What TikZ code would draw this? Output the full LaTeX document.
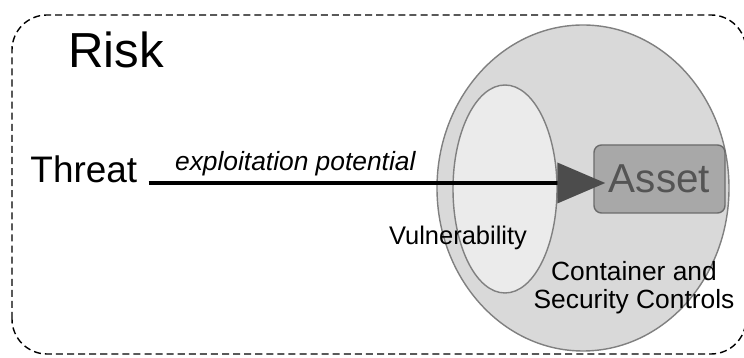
\documentclass[tikz,border=0pt]{standalone}
\usepackage{fontspec}
\setmainfont{Liberation Sans}
\usetikzlibrary{shapes.geometric,arrows.meta}

\definecolor{ringgray}{gray}{0.85}
\definecolor{holegray}{gray}{0.92}
\definecolor{edgegray}{gray}{0.5}
\definecolor{assetgray}{gray}{0.66}
\definecolor{boxedge}{gray}{0.42}
\definecolor{assettext}{gray}{0.33}
\definecolor{arrowgray}{gray}{0.3}

\begin{document}
\begin{tikzpicture}[scale=1,auto=center,
        layer/.style={ellipse, draw=edgegray, line width=0.8pt},
        word/.style={inner sep=0pt}]

        \useasboundingbox (0,0) rectangle (14.88,7.16);

        % risk frame
        \draw[dash pattern=on 4pt off 2.3pt, line width=0.8pt, rounded corners=0.7cm] (0.24,0.08) rectangle (14.92,6.86);

        \node[layer, fill=ringgray, minimum width=5.84cm, minimum height=6.52cm] (container) at (11.66, 3.4) {};
        \node[layer, fill=holegray, minimum width=2.08cm, minimum height=4.16cm] (vuln) at (10.1, 3.38) {};
        \node[rectangle, rounded corners=0.15cm, draw=boxedge, fill=assetgray, line width=0.8pt, minimum width=2.62cm, minimum height=1.36cm, text=assettext, font=\fontsize{23}{27}\selectfont] (asset) at (13.19, 3.58) {Asset};

        \node[word, anchor=base west, font=\fontsize{28}{34}\selectfont] (risk) at (1.36, 5.8) {Risk};
        \node[word, anchor=base east, font=\fontsize{21}{25}\selectfont] (threat) at (2.75, 3.5) {Threat};

        \draw[line width=2.2pt, shorten >=-0.24cm, -{Triangle[length=0.96cm, width=0.8cm, color=arrowgray]}] ([xshift=0.22cm]threat.base east) -- (threat.base east -| asset.west) node[above, pos=0.33, inner sep=3pt, font=\fontsize{15}{18}\selectfont\itshape] (expl) {exploitation potential};

        \node[word, anchor=base, font=\fontsize{14.5}{17}\selectfont] (vlabel) at (9.16, 2.26) {Vulnerability};
        \node[align=center, font=\fontsize{15}{16}\selectfont] (clabel) at (12.68, 1.4) {Container and\\Security Controls};

    \end{tikzpicture}
\end{document}
